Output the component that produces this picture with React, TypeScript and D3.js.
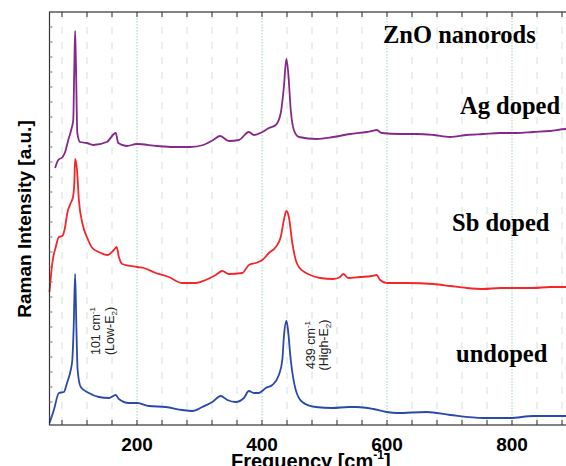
import React from 'react';
import * as d3 from 'd3';

// Raman shift (cm^-1) and intensity (a.u.)
const agDoped: [number, number][] = [
  [69, 2570], [74, 2650], [81, 2680], [85, 2730], [90, 2850], [95.5, 2970], [98, 3050],
  [99.7, 3580], [101, 3940], [102.4, 3580], [104.5, 2920], [109, 2830], [119.5, 2820],
  [130, 2800], [151.5, 2830], [166, 2920], [170, 2820], [183.5, 2790], [199.5, 2810],
  [231.5, 2790], [258, 2780], [285, 2780], [306, 2800], [322, 2850], [333, 2890],
  [347, 2840], [363, 2850], [379, 2930], [387, 2900], [400.5, 2930], [411, 2970],
  [422, 3000], [430, 3120], [435, 3380], [439, 3660], [442, 3520], [446, 3150],
  [451, 2950], [459, 2880], [487.5, 2860], [514, 2880], [541, 2910], [567.5, 2930],
  [575.5, 2940], [583.5, 2950], [591.5, 2920], [621, 2910], [647.5, 2910], [674, 2900],
  [701, 2880], [727.5, 2900], [754, 2910], [781, 2920], [807.5, 2920], [834, 2930],
  [861, 2940], [886, 2960], [900, 2960],
];

const sbDoped: [number, number][] = [
  [60, 1330], [64.5, 1620], [70, 1780], [75, 1880], [80.5, 1890], [85, 1980], [88.5, 2120],
  [94, 2220], [97.6, 2280], [99.7, 2420], [101, 2660], [104, 2550], [107, 2250],
  [112.5, 2020], [120.5, 1870], [128.5, 1770], [139, 1730], [152.5, 1700], [163, 1750],
  [167.5, 1780], [171, 1680], [176.5, 1610], [200.5, 1580], [211, 1570], [230, 1520],
  [251, 1480], [272.5, 1420], [294, 1420], [310, 1450], [326, 1500], [336.5, 1540],
  [347, 1510], [368.5, 1520], [379, 1600], [390, 1620], [400.5, 1650], [411, 1720],
  [422, 1780], [430, 1880], [435, 2050], [439, 2140], [443, 2080], [448.5, 1820],
  [454, 1650], [459, 1580], [477, 1500], [493, 1470], [514, 1460], [525, 1480],
  [530, 1510], [538, 1470], [557, 1480], [575.5, 1490], [583.5, 1500], [589, 1450],
  [599.5, 1420], [631.5, 1420], [674, 1410], [701, 1390], [727.5, 1370], [754, 1360],
  [781, 1370], [807.5, 1370], [834, 1370], [861, 1380], [886, 1380], [900, 1380],
];

const undoped: [number, number][] = [
  [60, 20], [67, 150], [75, 320], [83, 330], [88.5, 430], [94, 550], [96.5, 650],
  [98.7, 980], [101, 1510], [103, 980], [105, 550], [110, 380], [123, 320], [139, 280],
  [155, 270], [166, 300], [171, 260], [187, 220], [200.5, 220], [219, 190], [246, 180],
  [272.5, 150], [288.5, 140], [304.5, 180], [320.5, 230], [334, 290], [344.5, 250],
  [358, 230], [371, 270], [379, 340], [387, 320], [395, 320], [406, 370], [416.5, 400],
  [427, 500], [432.5, 650], [435, 880], [439, 1040], [441, 980], [446, 650], [454, 350],
  [464.5, 230], [486, 180], [512.5, 170], [539, 180], [551.5, 180], [578, 160],
  [599.5, 130], [615.5, 120], [663.5, 130], [701, 100], [754, 70], [797, 70],
  [834, 90], [886, 90], [900, 90],
];

const xTicks = d3.range(80, 900, 40);
const xTickLabels = [200, 400, 600, 800];
const yTicks = d3.range(80, 4130, 150);

const App = () => {
  const Width = 566;
  const Height = 466;
  const margin = { top: 12, left: 49.5, bottom: 41 };
  const plotBottom = Height - margin.bottom;

  const xScale = d3.scaleLinear().domain([60, 900]).range([margin.left, margin.left + 840 * 0.625]);
  const yScale = d3.scaleLinear().domain([0, 4130]).range([plotBottom, margin.top]);

  const line = d3
    .line<[number, number]>()
    .x((d) => xScale(d[0]))
    .y((d) => yScale(d[1]))
    .curve(d3.curveMonotoneX);

  const series = [
    { data: agDoped, color: '#86288a' },
    { data: sbDoped, color: '#f5252a' },
    { data: undoped, color: '#2a48ae' },
  ];

  const x0 = xScale.range()[0];
  const x1 = xScale.range()[1];

  const grid = xTicks.map((t) => {
    const major = xTickLabels.includes(t);
    return (
      <line
        key={t}
        x1={xScale(t)}
        x2={xScale(t)}
        y1={margin.top}
        y2={plotBottom}
        stroke={major ? '#9fd3b0' : '#cfe5d8'}
        strokeWidth={1}
        strokeDasharray={major ? '1.5,1.5' : '7,8'}
      />
    );
  });

  const ticks = xTicks.map((t) => (
    <g key={t}>
      <line x1={xScale(t)} x2={xScale(t)} y1={plotBottom} y2={plotBottom - 5} stroke="#333" />
      <line x1={xScale(t)} x2={xScale(t)} y1={margin.top} y2={margin.top + 5} stroke="#333" />
    </g>
  ));

  const leftTicks = yTicks.map((t) => (
    <line key={t} x1={x0} x2={x0 + 3} y1={yScale(t)} y2={yScale(t)} stroke="#777" />
  ));

  const tickLabels = xTickLabels.map((t) => (
    <text
      key={t}
      x={xScale(t)}
      y={plotBottom + 25.5}
      textAnchor="middle"
      style={{ fontSize: '19px', fontWeight: 'bold', fontFamily: 'Liberation Sans, Arial, sans-serif' }}
    >
      {t}
    </text>
  ));

  const serif = { fontFamily: 'Liberation Serif, Times New Roman, serif', fontWeight: 'bold', fontSize: '24.5px' } as const;
  const sans = { fontFamily: 'Liberation Sans, Arial, sans-serif', fontSize: '12.5px', fill: '#222' } as const;

  return (
    <svg width={Width} height={Height} style={{ position: 'absolute', left: 0, top: 0, background: '#fff' }}>
      <g>{grid}</g>
      <g fill="none" strokeWidth={1.8} strokeLinejoin="round">
        {series.map((s, i) => (
          <path key={i} d={line(s.data) ?? ''} stroke={s.color} />
        ))}
      </g>
      <rect x={x0} y={margin.top} width={x1 - x0} height={plotBottom - margin.top} fill="none" stroke="#333" strokeWidth={1.2} />
      <g>{ticks}</g>
      <g>{leftTicks}</g>
      <g>{tickLabels}</g>

      <text x={383} y={43} style={serif}>ZnO nanorods</text>
      <text x={460} y={114} style={serif}>Ag doped</text>
      <text x={452} y={231} style={serif}>Sb doped</text>
      <text x={456} y={362} style={serif}>undoped</text>

      <g transform={`translate(${xScale(101)}, 331) rotate(-90)`} style={sans}>
        <text x={0} y={25} textAnchor="middle">
          101  cm<tspan dy={-5} style={{ fontSize: '8px' }}>-1</tspan>
        </text>
        <text x={0} y={39} textAnchor="middle">
          (Low-E<tspan dy={3} style={{ fontSize: '8px' }}>2</tspan><tspan dy={-3}>)</tspan>
        </text>
      </g>
      <g transform={`translate(${xScale(439)}, 345) rotate(-90)`} style={sans}>
        <text x={0} y={29} textAnchor="middle">
          439  cm<tspan dy={-5} style={{ fontSize: '8px' }}>-1</tspan>
        </text>
        <text x={0} y={42} textAnchor="middle">
          (High-E<tspan dy={3} style={{ fontSize: '8px' }}>2</tspan><tspan dy={-3}>)</tspan>
        </text>
      </g>

      <text
        transform={`translate(31, 219) rotate(-90)`}
        textAnchor="middle"
        style={{ fontSize: '19px', fontWeight: 'bold', fontFamily: 'Liberation Sans, Arial, sans-serif' }}
      >
        Raman Intensity [a.u.]
      </text>
      <text
        x={231}
        y={468}
        style={{ fontSize: '20px', fontWeight: 'bold', fontFamily: 'Liberation Sans, Arial, sans-serif' }}
      >
        Frequency [cm<tspan dy={-9} style={{ fontSize: '12px' }}>-1</tspan><tspan dy={9}>]</tspan>
      </text>
    </svg>
  );
};

export default App;
